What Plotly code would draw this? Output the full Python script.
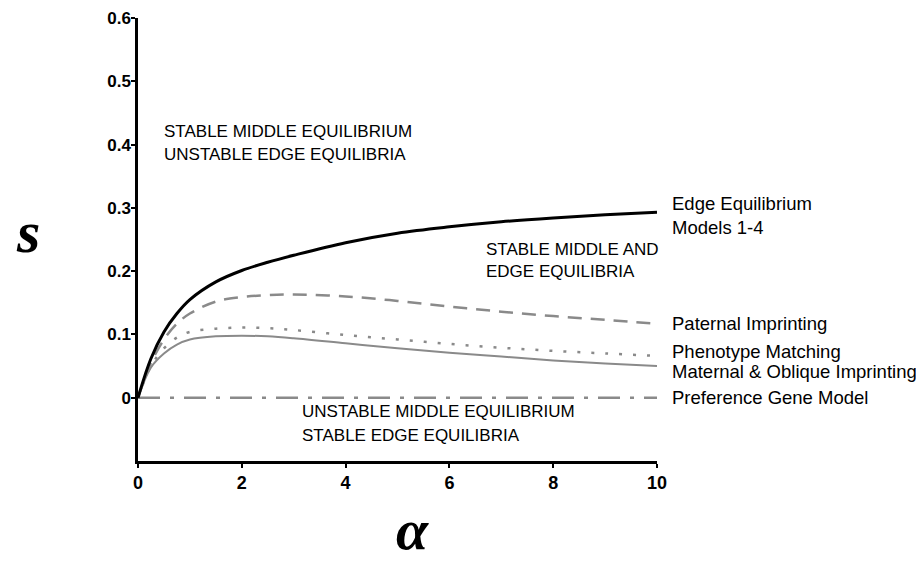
import plotly.graph_objects as go

alpha = [0, 0.25, 0.5, 0.75, 1, 1.5, 2, 2.5, 3, 4, 5, 6, 7, 8, 9, 10]
edge = [0, 0.062, 0.104, 0.133, 0.155, 0.183, 0.201, 0.214, 0.225, 0.245, 0.26, 0.27, 0.278, 0.284, 0.289, 0.293]
paternal = [0, 0.055, 0.092, 0.117, 0.133, 0.152, 0.159, 0.162, 0.163, 0.16, 0.153, 0.144, 0.136, 0.129, 0.123, 0.117]
phenotype = [0, 0.05, 0.078, 0.095, 0.104, 0.109, 0.111, 0.11, 0.107, 0.099, 0.092, 0.085, 0.079, 0.074, 0.07, 0.066]
maternal = [0, 0.048, 0.07, 0.084, 0.092, 0.097, 0.098, 0.097, 0.094, 0.086, 0.078, 0.071, 0.065, 0.059, 0.054, 0.05]
preference = [0] * len(alpha)

series_names = ["Edge Equilibrium<br>Models 1-4", "Paternal Imprinting", "Phenotype Matching",
                "Maternal & Oblique Imprinting", "Preference Gene Model"]
label_y = [0.288, 0.118, 0.073, 0.041, 0.0]

yticks = [0, 0.1, 0.2, 0.3, 0.4, 0.5, 0.6]
ytick_text = ["0", "0.1", "0.2", "0.3", "0.4", "0.5", "0.6"]
xticks = [0, 2, 4, 6, 8, 10]

region_lines = [
    ("STABLE MIDDLE EQUILIBRIUM", 0.46, 0.42),
    ("UNSTABLE EDGE EQUILIBRIA", 0.46, 0.384),
    ("STABLE MIDDLE AND", 6.67, 0.234),
    ("EDGE EQUILIBRIA", 6.67, 0.199),
    ("UNSTABLE MIDDLE EQUILIBRIUM", 3.12, -0.021),
    ("STABLE EDGE EQUILIBRIA", 3.12, -0.060),
]

gray = "#8a8a8a"
txtfont = "Liberation Sans, Arial"
fig = go.Figure()
fig.add_trace(go.Scatter(x=alpha, y=preference, mode="lines", line=dict(color=gray, width=2.5, dash="22px,10px,4px,10px")))
fig.add_trace(go.Scatter(x=alpha, y=maternal, mode="lines", line=dict(color=gray, width=2, shape="spline")))
fig.add_trace(go.Scatter(x=alpha, y=phenotype, mode="lines", line=dict(color=gray, width=2.5, dash="3px,11px", shape="spline")))
fig.add_trace(go.Scatter(x=alpha, y=paternal, mode="lines", line=dict(color=gray, width=2.5, dash="14px,9px", shape="spline")))
fig.add_trace(go.Scatter(x=alpha, y=edge, mode="lines", line=dict(color="black", width=3, shape="spline")))

ann = []
for t, xx, yy in region_lines:
    ann.append(dict(x=xx, y=yy, xref="x", yref="y", text=t, showarrow=False, xanchor="left", yanchor="middle",
                    font=dict(family=txtfont, size=17, color="#000")))
for name, yy in zip(series_names, label_y):
    ann.append(dict(x=10, y=yy, xref="x", yref="y", xshift=13, text=name, showarrow=False, xanchor="left",
                    yanchor="middle", align="left",
                    font=dict(family=txtfont, size=18.5, color="#000")))
ann.append(dict(x=-0.212, y=0.517, xref="paper", yref="paper", text="<b><i>s</i></b>", showarrow=False,
                xanchor="center", yanchor="middle",
                font=dict(family="Liberation Serif, Times New Roman", size=60, color="black")))
ann.append(dict(x=0.528, y=-0.1535, xref="paper", yref="paper", text="<b><i>α</i></b>", showarrow=False,
                xanchor="center", yanchor="middle",
                font=dict(family="Liberation Serif, Times New Roman", size=58, color="black")))

fig.update_layout(
    width=924, height=563,
    margin=dict(l=130, r=275, t=10, b=110),
    plot_bgcolor="white", paper_bgcolor="white",
    showlegend=False,
    annotations=ann,
    xaxis=dict(range=[0, 10], tickvals=xticks, showline=True, linecolor="black", linewidth=2.5,
               ticks="outside", ticklen=4, tickwidth=2, tickcolor="black", showgrid=False, zeroline=False,
               automargin=False,
               tickfont=dict(family=txtfont, size=18, color="black", weight="bold")),
    yaxis=dict(range=[-0.1, 0.6], tickvals=yticks, ticktext=ytick_text, showline=True, linecolor="black",
               linewidth=2.5, ticks="outside", ticklen=4, tickwidth=2, tickcolor="black", showgrid=False,
               zeroline=False, automargin=False, ticklabelstandoff=-3,
               tickfont=dict(family=txtfont, size=17, color="black", weight="bold")),
)
fig.write_html("out.html")
